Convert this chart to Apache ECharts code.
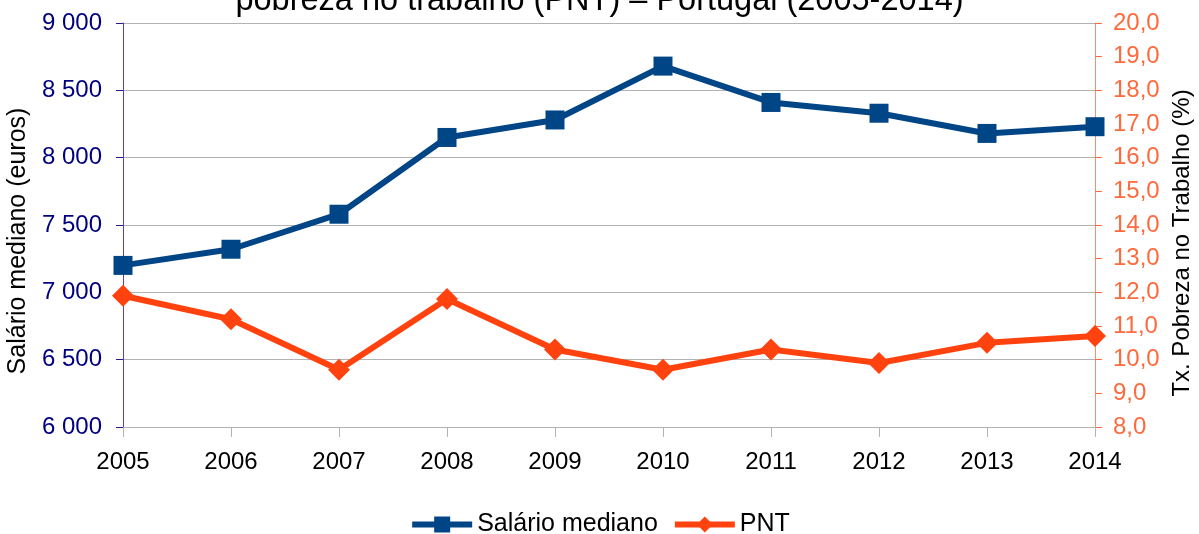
<!DOCTYPE html>
<html>
<head>
<meta charset="utf-8">
<script src="https://cdn.jsdelivr.net/npm/echarts@6/dist/echarts.min.js"></script>
<style>html,body{margin:0;padding:0;background:#fff}#c{width:1199px;height:534px}</style>
</head>
<body>
<div id="c"></div>
<script>
const years = ['2005','2006','2007','2008','2009','2010','2011','2012','2013','2014'];
const salario = [7200, 7320, 7580, 8150, 8280, 8680, 8410, 8330, 8180, 8230];
const pnt = [11.9, 11.2, 9.7, 11.8, 10.3, 9.7, 10.3, 9.9, 10.5, 10.7];
const leftTicks = [6000, 9000, 500];
const rightTicks = [8, 20, 1];

const FONT = '"Liberation Sans", Arial, sans-serif';
const chart = echarts.init(document.getElementById('c'));
chart.setOption({
  animation: false,
  backgroundColor: '#fff',
  title: {
    text: 'pobreza no trabalho (PNT) – Portugal (2005-2014)',
    left: 'center', top: -15, padding: 0,
    textStyle: {fontFamily: FONT, fontSize: 32.5, fontWeight: 'normal', color: '#000'}
  },
  legend: {
    top: 507, left: 'center', itemWidth: 60, itemHeight: 20, itemGap: 14,
    textStyle: {fontFamily: FONT, fontSize: 25, color: '#000'},
    data: [
      {name: 'Salário mediano', lineStyle: {width: 6}},
      {name: 'PNT', lineStyle: {width: 6}}
    ]
  },
  grid: {left: 123, right: 104, top: 23, bottom: 107, outerBoundsMode: 'none', containLabel: false},
  xAxis: {
    type: 'category', data: years, boundaryGap: false,
    axisLine: {lineStyle: {color: '#b3b3b3', width: 1}},
    axisTick: {show: true, length: 10, inside: false, alignWithLabel: true, lineStyle: {color: '#b3b3b3'}},
    axisLabel: {fontFamily: FONT, fontSize: 24, color: '#000', margin: 23},
    splitLine: {show: false}
  },
  yAxis: [{
    type: 'value', min: leftTicks[0], max: leftTicks[1], interval: leftTicks[2],
    name: 'Salário mediano (euros)', nameLocation: 'middle', nameGap: 84, nameRotate: 90,
    nameTextStyle: {fontFamily: FONT, fontSize: 25, color: '#000', padding: [0, 32, 0, 0]},
    axisLine: {show: true, lineStyle: {color: '#5b3fb5', width: 1}},
    axisTick: {show: true, length: 7, lineStyle: {color: '#2a1a8a'}},
    axisLabel: {fontFamily: FONT, fontSize: 24, color: '#000080', margin: 21,
      formatter: v => { const s = String(v); return s.length > 3 ? s.slice(0, s.length-3) + ' ' + s.slice(-3) : s; }},
    splitLine: {show: true, lineStyle: {color: '#b3b3b3', width: 1}}
  }, {
    type: 'value', min: rightTicks[0], max: rightTicks[1], interval: rightTicks[2],
    position: 'right',
    name: 'Tx. Pobreza no Trabalho (%)', nameLocation: 'middle', nameGap: 75, nameRotate: 90,
    nameTextStyle: {fontFamily: FONT, fontSize: 24, color: '#000', padding: [0, 36, 0, 0]},
    axisLine: {show: true, lineStyle: {color: '#f4906c', width: 1}},
    axisTick: {show: true, length: 7, lineStyle: {color: '#ff6a3d'}},
    axisLabel: {fontFamily: FONT, fontSize: 24, color: '#ff6a3d', margin: 18,
      formatter: v => v.toFixed(1).replace('.', ',')},
    splitLine: {show: false}
  }],
  series: [{
    name: 'Salário mediano', type: 'line', yAxisIndex: 0, data: salario,
    symbol: 'rect', symbolSize: 19,
    lineStyle: {color: '#004586', width: 6},
    itemStyle: {color: '#004586'}
  }, {
    name: 'PNT', type: 'line', yAxisIndex: 1, data: pnt,
    symbol: 'diamond', symbolSize: 22,
    lineStyle: {color: '#ff420e', width: 6},
    itemStyle: {color: '#ff420e'}
  }]
});
</script>
</body>
</html>
